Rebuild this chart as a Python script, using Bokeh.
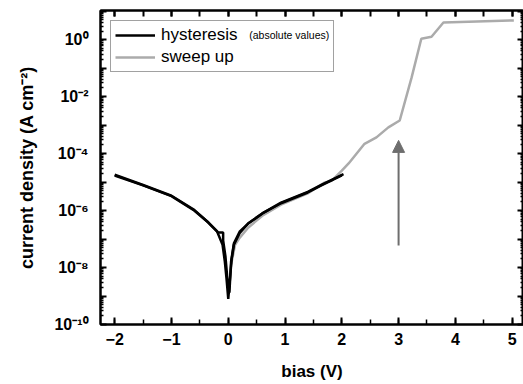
from bokeh.plotting import figure
from bokeh.models import (Range1d, LinearAxis, LogAxis, FixedTicker, SingleIntervalTicker,
                          Legend, LegendItem, Label, Arrow, NormalHead, CustomJSTickFormatter)
from bokeh.embed import file_html
from bokeh.resources import INLINE

# ---------------- data ----------------
# hysteresis, absolute current density, forward sweep -2 V -> 2 V
hyst_fwd_v = [-2.0, -1.5, -1.0, -0.6, -0.35, -0.2, -0.1, -0.06, -0.03, 0.0,
              0.03, 0.06, 0.1, 0.2, 0.35, 0.6, 0.93, 1.4, 1.64, 2.0]
hyst_fwd_j = [1.7e-5, 7.6e-6, 3.2e-6, 1.0e-6, 3.8e-7, 1.9e-7, 6.3e-8, 1.6e-8, 4.0e-9, 7.9e-10,
              4.0e-9, 2.0e-8, 6.3e-8, 1.6e-7, 3.5e-7, 7.9e-7, 1.8e-6, 4.3e-6, 7.6e-6, 1.7e-5]
# hysteresis, reverse sweep 2 V -> -2 V (with the small step near -0.1 V)
hyst_rev_v = [2.03, 1.64, 1.4, 0.93, 0.6, 0.35, 0.2, 0.1, 0.05, 0.02, -0.02, -0.05, -0.09, -0.09,
              -0.18, -0.35, -0.6, -1.0, -1.5, -2.0]
hyst_rev_j = [1.9e-5, 7.9e-6, 4.5e-6, 1.9e-6, 7.9e-7, 3.5e-7, 1.8e-7, 7.1e-8, 1.6e-8, 1.3e-9, 5.0e-9, 2.5e-8,
              8.9e-8, 1.7e-7, 1.7e-7, 3.8e-7, 1.05e-6, 3.3e-6, 7.9e-6, 1.8e-5]
# sweep up 0 V -> 5 V
sweep_v = [0.05, 0.08, 0.12, 0.2, 0.35, 0.6, 0.93, 1.4, 1.69, 1.82, 2.0, 2.12, 2.4, 2.61, 2.82,
           3.02, 3.23, 3.4, 3.58, 3.79, 5.03]
sweep_j = [1.3e-8, 2.5e-8, 6.3e-8, 1.1e-7, 2.5e-7, 6.6e-7, 1.6e-6, 4.0e-6, 9.5e-6, 1.1e-5, 2.5e-5, 4.5e-5,
           2.2e-4, 3.7e-4, 8.3e-4, 1.45e-3, 4.7e-2, 1.07, 1.26, 4.0, 4.7]

# arrow marking the onset at 3 V
arrow_x = 3.0
arrow_j_start = 5.9e-8
arrow_j_end = 2.9e-4

# legend note "(absolute values)" anchor
note_x = 0.37
note_j = 1.4

# tick labels
y_major = [1e-10, 1e-9, 1e-8, 1e-7, 1e-6, 1e-5, 1e-4, 1e-3, 1e-2, 1e-1, 1e0, 1e1]
y_labels = {1e-10: "10\u207b\u00b9\u2070", 1e-8: "10\u207b\u2078", 1e-6: "10\u207b\u2076",
            1e-4: "10\u207b\u2074", 1e-2: "10\u207b\u00b2", 1e0: "10\u2070"}

FONT = "Liberation Sans"

p = figure(width=523, height=384, y_axis_type="log",
           x_range=Range1d(-2.25, 5.2), y_range=Range1d(1e-10, 1.05e1),
           output_backend="svg", toolbar_location=None,
           min_border_left=100, min_border_right=0, min_border_top=10, min_border_bottom=60)
p.grid.visible = False
p.outline_line_color = "black"
p.outline_line_width = 2
p.background_fill_color = "white"
p.border_fill_color = "white"

y_minor = [k * 10.0 ** n for n in range(-10, 1) for k in range(2, 10)]
y_ticker = FixedTicker(ticks=y_major, minor_ticks=y_minor)

# bottom axis
xa = p.xaxis[0]
xa.ticker = SingleIntervalTicker(interval=1, num_minor_ticks=2)
xa.axis_label = "bias (V)"
# left axis
ya = p.yaxis[0]
ya.ticker = y_ticker
ya.major_label_overrides = {t: y_labels.get(t, "") for t in y_major}
ya.axis_label = "current density (A cm\u207b\u00b2)"

for ax in (xa, ya):
    ax.axis_line_width = 2
    ax.major_tick_line_width = 2
    ax.minor_tick_line_width = 1.5
    ax.major_tick_out = 0
    ax.minor_tick_out = 0
    ax.major_label_text_font = FONT
    ax.major_label_text_font_style = "bold"
    ax.major_label_text_font_size = "16px"
    ax.major_label_text_color = "black"
    ax.axis_label_text_font = FONT
    ax.axis_label_text_font_style = "bold"
    ax.axis_label_text_color = "black"

xa.axis_label_text_font_size = "17px"
ya.axis_label_text_font_size = "18px"
xa.major_tick_in = 7
xa.minor_tick_in = 5
xa.major_label_standoff = 8
xa.axis_label_standoff = 14
ya.major_tick_in = 6
ya.minor_tick_in = 3
ya.major_label_standoff = 12
ya.axis_label_standoff = 14

empty = CustomJSTickFormatter(code="return ''")
top = LinearAxis(ticker=SingleIntervalTicker(interval=1, num_minor_ticks=2), formatter=empty,
                 major_label_text_font_size="0px", major_label_standoff=0,
                 axis_line_width=2, major_tick_out=0, minor_tick_out=0,
                 major_tick_in=6, minor_tick_in=6, major_tick_line_width=2, minor_tick_line_width=2)
right = LogAxis(ticker=y_ticker, formatter=empty,
                major_label_text_font_size="0px", major_label_standoff=0,
                axis_line_width=2, major_tick_out=0, minor_tick_out=0,
                major_tick_in=6, minor_tick_in=3, major_tick_line_width=2, minor_tick_line_width=1.5)
p.add_layout(top, "above")
p.add_layout(right, "right")

# curves
r_sweep = p.line(sweep_v, sweep_j, line_color="#ababab", line_width=2.5)
r_fwd = p.line(hyst_fwd_v, hyst_fwd_j, line_color="black", line_width=2.5)
r_rev = p.line(hyst_rev_v, hyst_rev_j, line_color="black", line_width=2.5)

# arrow
p.add_layout(Arrow(x_start=arrow_x, y_start=arrow_j_start, x_end=arrow_x, y_end=arrow_j_end,
                   line_color="#6e6e6e", line_width=2,
                   end=NormalHead(size=12, fill_color="#6e6e6e", line_color="#6e6e6e")))

legend = Legend(items=[LegendItem(label="hysteresis", renderers=[r_fwd]),
                       LegendItem(label="sweep up", renderers=[r_sweep])],
                location="top_left", margin=10, padding=4, spacing=2,
                glyph_width=40, glyph_height=20, label_height=20, label_width=168,
                label_standoff=6, label_text_font=FONT, label_text_font_size="17px",
                label_text_color="black",
                border_line_color="#444444", border_line_width=1.5,
                background_fill_alpha=0.0)
p.add_layout(legend)

note = Label(x=note_x, y=note_j, text="(absolute values)",
             text_font=FONT, text_font_size="10.5px", text_color="black",
             text_baseline="alphabetic", text_align="left")
p.add_layout(note)

open("out.html", "w").write(file_html(p, INLINE))
